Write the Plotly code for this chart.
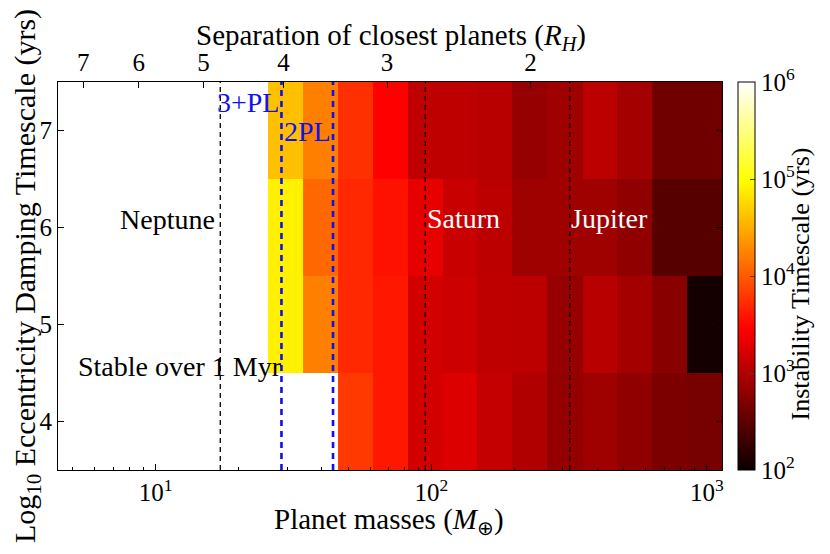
import math
import plotly.graph_objects as go

# mass grid cell edges (Earth masses), 19 cells on a log grid
mass_edges = [4.42, 5.92, 7.93, 10.6, 14.2, 19.0, 25.5, 34.3, 45.9, 61.4, 82.3,
              110, 147, 197, 264, 354, 474, 634, 849, 1135]
# log10 eccentricity damping timescale, row centres
tau_e = [4, 5, 6, 7]

S = None  # stable over 1 Myr -> left blank
# log10 instability timescale (yrs), one row per tau_e
inst_4 = [S, S, S, S, S, S, S, S, 3.80, 3.60, 3.20, 3.25, 3.11, 2.99, 2.82, 2.89, 2.80, 2.68, 2.65]
inst_5 = [S, S, S, S, S, S, 4.90, 4.22, 3.70, 3.60, 3.20, 3.16, 3.08, 3.06, 2.84, 3.04, 2.92, 2.75, 2.06]
inst_6 = [S, S, S, S, S, S, 4.90, 4.08, 3.70, 3.56, 3.32, 3.13, 3.06, 2.89, 2.89, 2.89, 2.80, 2.46, 2.46]
inst_7 = [S, S, S, S, S, S, 4.61, 4.22, 3.75, 3.46, 3.08, 3.08, 3.04, 2.84, 2.89, 3.06, 2.92, 2.61, 2.61]

# top axis: separation of closest planets in mutual Hill radii
sep_labels = ["7", "6", "5", "4", "3", "2"]
sep_mass = [5.46, 8.67, 14.9, 29.1, 69.1, 229]

planet_mass = {"Neptune": 17.15, "Saturn": 95.16, "Jupiter": 317.8}
pl_limits = [28.6, 44.0]  # 3+PL and 2PL boundaries

cbar_vals = [2, 3, 4, 5, 6]
cbar_text = ["10<sup>%d</sup>" % v for v in cbar_vals]

hot = [[0.0, "rgb(10,0,0)"], [0.365079, "rgb(255,0,0)"],
       [0.746032, "rgb(255,255,0)"], [1.0, "rgb(255,255,255)"]]

FONT = "Liberation Serif"
FS = 25    # axis titles
TFS = 25   # tick labels
LFS = 28   # in-plot labels

fig = go.Figure()
fig.add_trace(go.Heatmap(
    x=mass_edges, y=[3.5, 4.5, 5.5, 6.5, 7.5],
    z=[inst_4, inst_5, inst_6, inst_7],
    zmin=2, zmax=6, colorscale=hot, hoverongaps=False,
    colorbar=dict(
        x=1.024, xanchor="left", xpad=0, y=0.5, yanchor="middle", ypad=0, len=1.0,
        thickness=17, outlinewidth=1, outlinecolor="black",
        tickvals=cbar_vals, ticktext=cbar_text, ticks="inside", ticklen=5,
        tickfont=dict(family=FONT, size=TFS, color="black"),
    ),
))
# dummy trace so the top axis is drawn
fig.add_trace(go.Scatter(x=[sep_mass[0]], y=[7], xaxis="x2", mode="markers",
                         marker=dict(opacity=0), showlegend=False, hoverinfo="skip"))

for name, m in planet_mass.items():
    fig.add_shape(type="line", x0=m, x1=m, y0=0, y1=1, xref="x", yref="paper",
                  line=dict(color="black", width=1.3, dash="5px,4px"))
for m in pl_limits:
    fig.add_shape(type="line", x0=m, x1=m, y0=0, y1=1, xref="x", yref="paper",
                  line=dict(color="#1010ee", width=2.6, dash="6px,5px"))

def label(txt, x, y, color, anchor):
    # annotations on a log axis take log10 positions
    fig.add_annotation(x=math.log10(x), y=y, xref="x", yref="y", text=txt,
                       showarrow=False, xanchor=anchor, yanchor="middle", borderpad=0,
                       font=dict(family=FONT, size=LFS, color=color))

label("Neptune", 16.6, 6.08, "black", "right")
label("Stable over 1 Myr", 5.2, 4.57, "black", "left")
label("3+PL", 28.2, 7.29, "#1010ee", "right")
label("2PL", 28.9, 6.99, "#1010ee", "left")
label("Saturn", 95.5, 6.09, "white", "left")
label("Jupiter", 318, 6.09, "white", "left")

def paper_text(txt, x, y, size, angle=0):
    fig.add_annotation(x=x, y=y, xref="paper", yref="paper", showarrow=False,
                       xanchor="center", yanchor="middle", text=txt, textangle=angle,
                       borderpad=0, font=dict(family=FONT, size=size, color="black"))

paper_text("Instability Timescale (yrs)", 1.118, 0.479, 26, -90)
paper_text("Separation of closest planets (<i>R</i><sub><i>H</i></sub>)", 0.5015, 1.116, 29)
paper_text("Planet masses (<i>M</i><sub>⊕</sub>)", 0.4985, -0.132, 29)

xr = [0.6454, 3.055]
minor_vals = [v * d for d in (1, 10, 100) for v in range(2, 10) if 4.4 < v * d < 1135]
# page has an 8px body margin, so the figure is shrunk by that much
fig.update_layout(
    width=822, height=546,
    margin=dict(l=50, r=108, t=74, b=84, autoexpand=False),
    plot_bgcolor="white", paper_bgcolor="white",
    font=dict(family=FONT, size=FS, color="black"),
    xaxis=dict(type="log", range=xr, showgrid=False, zeroline=False, automargin=False,
               tickvals=[10, 100, 1000],
               ticktext=["10<sup>1</sup>", "10<sup>2</sup>", "10<sup>3</sup>"],
               tickfont=dict(size=TFS),
               ticks="inside", ticklen=6, tickcolor="black",
               minor=dict(tickmode="array", tickvals=minor_vals, ticks="inside",
                          ticklen=3, tickcolor="black"),
               showline=True, linecolor="black", linewidth=1.2),
    xaxis2=dict(type="log", range=xr, overlaying="x", side="top", anchor="y",
                showgrid=False, zeroline=False, automargin=False,
                tickvals=sep_mass, ticktext=sep_labels, ticks="inside", ticklen=6,
                tickfont=dict(size=TFS),
                tickcolor="black", showline=True, linecolor="black", linewidth=1.2),
    yaxis=dict(range=[3.5, 7.5], showgrid=False, zeroline=False, automargin=False,
               tickvals=tau_e, ticks="inside", ticklen=6, tickcolor="black",
               tickfont=dict(size=TFS),
               showline=True, mirror="ticks", linecolor="black", linewidth=1.2,
               title=dict(text="Log<sub>10</sub> Eccentricity Damping Timescale (yrs)",
                          standoff=4)),
)

fig.write_html("out.html")
